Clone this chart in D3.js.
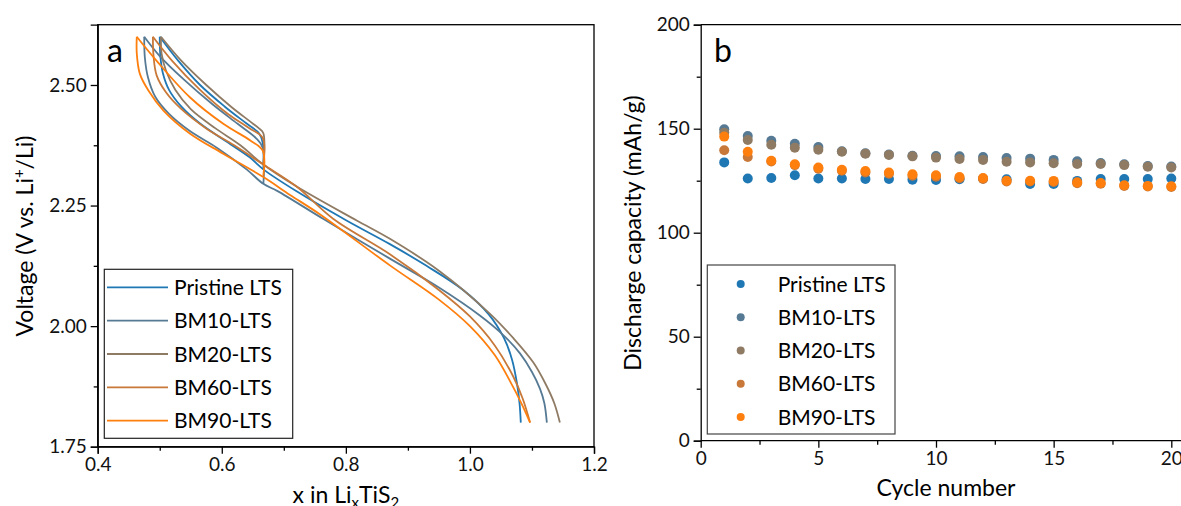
<!DOCTYPE html>
<html><head><meta charset="utf-8">
<script src="https://cdn.jsdelivr.net/npm/d3@7"></script>
<style>
body{margin:0;background:#fff;}
svg{display:block;font-family:Lato,"Open Sans",sans-serif;}
</style></head>
<body><svg id="c" width="1181" height="506"></svg>
<script>
// ---------- DATA ----------
const seriesNames = ["Pristine LTS","BM10-LTS","BM20-LTS","BM60-LTS","BM90-LTS"];
const seriesColors = ["#1f77b4","#567a94","#8f7b64","#c87838","#ff7f0e"];

// Panel a: voltage profiles [x in LixTiS2, V]
const pristineLower = [[0.500,2.60],[0.501,2.56],[0.505,2.525],[0.515,2.49],[0.535,2.455],[0.565,2.42],[0.605,2.385],[0.645,2.35],[0.667,2.325],[0.72,2.28],[0.801,2.219],[0.871,2.170],[0.93,2.125],[0.989,2.075],[1.03,2.025],[1.055,1.975],[1.068,1.93],[1.076,1.88],[1.080,1.84],[1.082,1.80]];
const pristineUpper = [[0.500,2.60],[0.53,2.55],[0.565,2.50],[0.605,2.455],[0.64,2.42],[0.66,2.40],[0.666,2.38],[0.667,2.325]];
const bm10Lower = [[0.475,2.60],[0.476,2.557],[0.481,2.516],[0.493,2.475],[0.515,2.44],[0.548,2.405],[0.592,2.37],[0.64,2.325],[0.667,2.295],[0.69,2.28],[0.764,2.222],[0.871,2.140],[0.95,2.08],[1.016,2.022],[1.055,1.98],[1.081,1.943],[1.10,1.905],[1.113,1.87],[1.120,1.84],[1.124,1.80]];
const bm10Upper = [[0.475,2.60],[0.50,2.56],[0.54,2.51],[0.585,2.46],[0.625,2.42],[0.655,2.39],[0.666,2.37],[0.667,2.295]];
const bm20Lower = [[0.502,2.60],[0.503,2.565],[0.51,2.53],[0.525,2.49],[0.55,2.45],[0.59,2.41],[0.63,2.375],[0.667,2.335],[0.72,2.29],[0.8175,2.219],[0.871,2.181],[0.95,2.115],[1.032,2.026],[1.07,1.975],[1.102,1.925],[1.122,1.88],[1.136,1.84],[1.145,1.80]];
const bm20Upper = [[0.502,2.60],[0.535,2.55],[0.575,2.50],[0.615,2.455],[0.645,2.425],[0.66,2.41],[0.667,2.40],[0.667,2.335]];
const bm60Lower = [[0.489,2.60],[0.490,2.56],[0.495,2.52],[0.51,2.485],[0.535,2.45],[0.575,2.41],[0.62,2.375],[0.667,2.335],[0.72,2.29],[0.78,2.222],[0.871,2.149],[0.95,2.075],[1.0,2.02],[1.04,1.96],[1.07,1.895],[1.085,1.85],[1.097,1.80]];
const bm60Upper = [[0.489,2.60],[0.52,2.55],[0.565,2.49],[0.61,2.44],[0.645,2.41],[0.666,2.39],[0.667,2.335]];
const bm90Lower = [[0.463,2.60],[0.463,2.565],[0.468,2.523],[0.482,2.488],[0.506,2.447],[0.549,2.399],[0.603,2.357],[0.667,2.309],[0.71,2.272],[0.758,2.232],[0.871,2.126],[0.95,2.055],[1.0,2.0],[1.04,1.94],[1.065,1.885],[1.083,1.84],[1.097,1.80]];
const bm90Upper = [[0.463,2.60],[0.495,2.55],[0.549,2.474],[0.603,2.419],[0.646,2.385],[0.666,2.364],[0.667,2.312]];

// Panel b: discharge capacity (mAh/g) vs cycle
const cycles = [1,2,3,4,5,6,7,8,9,10,11,12,13,14,15,16,17,18,19,20];
const pristineCap = [133.8,126.1,126.3,127.6,126.1,126.1,125.8,125.8,125.5,125.3,125.7,126.1,125.7,123.4,123.4,124.9,125.8,125.8,125.8,126.1];
const bm10Cap = [149.7,146.5,144.2,142.8,141.2,139.2,138.2,137.6,137.0,136.9,136.7,136.4,135.9,135.6,135.0,134.3,133.5,132.9,132.1,131.8];
const bm20Cap = [148.1,144.6,142.3,140.9,139.9,138.9,138.0,137.4,136.7,136.1,135.4,135.0,134.1,133.8,133.4,133.0,133.0,132.5,131.7,131.4];
const bm60Cap = [139.6,136.4,134.2,132.5,130.8,129.8,129.0,128.3,127.4,126.9,126.2,125.8,124.6,124.6,124.4,123.8,123.5,122.5,122.2,122.0];
const bm90Cap = [146.2,138.9,134.6,132.9,131.3,130.3,129.7,128.9,128.1,127.6,126.8,126.3,125.0,125.0,124.9,124.2,123.9,122.8,122.5,122.3];

const xTicksA = [0.4,0.6,0.8,1.0,1.2];
const xMinorA = [0.5,0.7,0.9,1.1];
const yTicksA = [1.75,2.00,2.25,2.50];
const yMinorA = [1.875,2.125,2.375];
const xTicksB = [0,5,10,15,20];
const xMinorB = [2.5,7.5,12.5,17.5];
const yTicksB = [0,50,100,150,200];
const yMinorB = [25,75,125,175];

// ---------- DRAW ----------
const svg = d3.select("#c");
const tickFont = 19, titleFont = 23, legFont = 21;

const profiles = [
  [pristineLower, pristineUpper],
  [bm10Lower, bm10Upper],
  [bm20Lower, bm20Upper],
  [bm60Lower, bm60Upper],
  [bm90Lower, bm90Upper]
];
const caps = [pristineCap, bm10Cap, bm20Cap, bm60Cap, bm90Cap];

function styleAxis(g){
  g.selectAll("path.domain").attr("stroke","#000").attr("stroke-width",1.3);
  g.selectAll(".tick line").attr("stroke","#000").attr("stroke-width",1.3);
  g.selectAll(".tick text").attr("font-size",tickFont).attr("font-family","Lato").attr("fill","#111");
}
function minor(g){g.select(".domain").remove();g.selectAll("line").attr("stroke","#000").attr("stroke-width",1.3);}

// Panel A
const xa = d3.scaleLinear().domain([0.4,1.2]).range([97.7,594]);
const ya = d3.scaleLinear().domain([1.75,2.625]).range([446.7,24.7]);

svg.append("rect").attr("x",xa(0.4)).attr("y",ya(2.625)).attr("width",xa(1.2)-xa(0.4)).attr("height",ya(1.75)-ya(2.625))
  .attr("fill","none").attr("stroke","#000").attr("stroke-width",1.3);

const gxa = svg.append("g").attr("transform",`translate(0,${ya(1.75)})`)
  .call(d3.axisBottom(xa).tickValues(xTicksA).tickFormat(d3.format(".1f")).tickSize(7).tickPadding(4));
styleAxis(gxa);
svg.append("g").attr("transform",`translate(0,${ya(1.75)})`)
  .call(d3.axisBottom(xa).tickValues(xMinorA).tickFormat("").tickSize(4)).call(minor);
const gya = svg.append("g").attr("transform",`translate(${xa(0.4)},0)`)
  .call(d3.axisLeft(ya).tickValues(yTicksA).tickFormat(d3.format(".2f")).tickSize(7).tickPadding(4));
styleAxis(gya);
svg.append("g").attr("transform",`translate(${xa(0.4)},0)`)
  .call(d3.axisLeft(ya).tickValues(yMinorA).tickFormat("").tickSize(4)).call(minor);

const lineA = d3.line().x(d=>xa(d[0])).y(d=>ya(d[1])).curve(d3.curveCatmullRom.alpha(0.5));
profiles.forEach((p,i)=>{
  p.forEach(seg=>{
    svg.append("path").attr("d",lineA(seg)).attr("fill","none")
      .attr("stroke",seriesColors[i]).attr("stroke-width",1.8);
  });
});

svg.append("text").attr("x",107).attr("y",62).attr("font-size",32).attr("fill","#000").text("a");

// axis titles A
const tA = svg.append("text").attr("x",(xa(0.4)+xa(1.2))/2).attr("y",503).attr("text-anchor","middle")
  .attr("font-size",titleFont).attr("fill","#000");
tA.append("tspan").text("x in Li");
tA.append("tspan").attr("font-size",15).attr("dy",5).text("x");
tA.append("tspan").attr("dy",-5).text("TiS");
tA.append("tspan").attr("font-size",15).attr("dy",5).text("2");

const yTA = svg.append("text").attr("transform",`translate(33,236) rotate(-90)`).attr("text-anchor","middle")
  .attr("font-size",titleFont).attr("fill","#000");
yTA.append("tspan").text("Voltage (V vs. Li");
yTA.append("tspan").attr("font-size",15).attr("dy",-9).text("+");
yTA.append("tspan").attr("dy",9).text("/Li)");

// Legend A
svg.append("rect").attr("x",104.3).attr("y",269.3).attr("width",188.4).attr("height",169)
  .attr("fill","#fff").attr("stroke","#222").attr("stroke-width",1.2);
seriesNames.forEach((n,i)=>{
  const cy = 287.3 + i*33.35;
  svg.append("line").attr("x1",107).attr("x2",168).attr("y1",cy).attr("y2",cy)
    .attr("stroke",seriesColors[i]).attr("stroke-width",1.8);
  svg.append("text").attr("x",174).attr("y",cy+7.5).attr("font-size",legFont).attr("fill","#000").text(n);
});

// Panel B
const xb = d3.scaleLinear().domain([0,20]).range([700.7,1171.3]);
const yb = d3.scaleLinear().domain([0,200]).range([440.7,24.7]);

svg.append("line").attr("x1",xb(0)).attr("x2",1181).attr("y1",yb(200)).attr("y2",yb(200))
  .attr("stroke","#000").attr("stroke-width",1.3);
const gxb = svg.append("g").attr("transform",`translate(0,${yb(0)})`)
  .call(d3.axisBottom(xb).tickValues(xTicksB).tickFormat(d3.format("d")).tickSize(7).tickPadding(4));
styleAxis(gxb);
gxb.select("path.domain").attr("d",`M${xb(0)},0H1181`);
svg.append("g").attr("transform",`translate(0,${yb(0)})`)
  .call(d3.axisBottom(xb).tickValues(xMinorB).tickFormat("").tickSize(4)).call(minor);
const gyb = svg.append("g").attr("transform",`translate(${xb(0)},0)`)
  .call(d3.axisLeft(yb).tickValues(yTicksB).tickFormat(d3.format("d")).tickSize(7).tickPadding(4));
styleAxis(gyb);
svg.append("g").attr("transform",`translate(${xb(0)},0)`)
  .call(d3.axisLeft(yb).tickValues(yMinorB).tickFormat("").tickSize(4)).call(minor);

caps.forEach((arr,i)=>{
  svg.append("g").selectAll("circle").data(arr).join("circle")
    .attr("cx",(d,j)=>xb(cycles[j])).attr("cy",d=>yb(d)).attr("r",5)
    .attr("fill",seriesColors[i]);
});

svg.append("text").attr("x",714).attr("y",62).attr("font-size",32).attr("fill","#000").text("b");

svg.append("text").attr("x",946).attr("y",496).attr("text-anchor","middle")
  .attr("font-size",titleFont).attr("fill","#000").text("Cycle number");
svg.append("text").attr("transform",`translate(641,233) rotate(-90)`).attr("text-anchor","middle")
  .attr("font-size",titleFont).attr("fill","#000").text("Discharge capacity (mAh/g)");

// Legend B
svg.append("rect").attr("x",707.3).attr("y",265).attr("width",187.7).attr("height",169)
  .attr("fill","#fff").attr("stroke","#444").attr("stroke-width",1.2);
seriesNames.forEach((n,i)=>{
  const cy = 284 + i*33.25;
  svg.append("circle").attr("cx",740.7).attr("cy",cy).attr("r",4).attr("fill",seriesColors[i]);
  svg.append("text").attr("x",777.7).attr("y",cy+7.5).attr("font-size",legFont).attr("fill","#000").text(n);
});
</script></body></html>
